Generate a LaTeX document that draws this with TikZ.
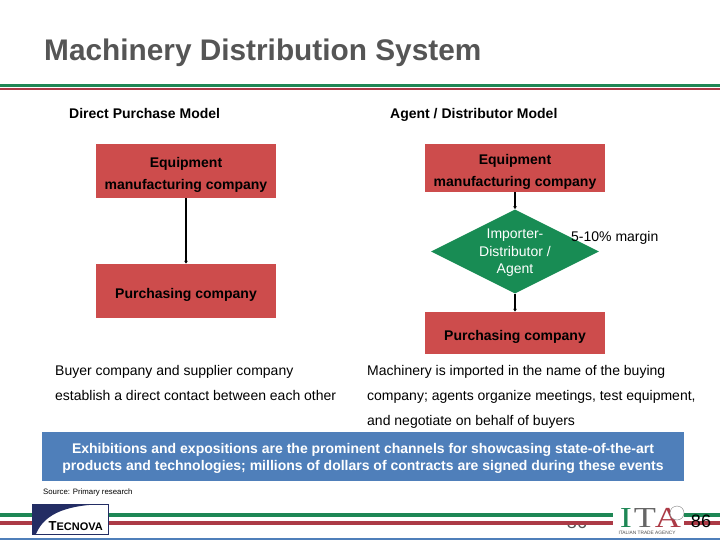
\documentclass[tikz,border=0pt]{standalone}
\usepackage{fontspec}
\setmainfont{Liberation Sans}
\newfontfamily\itaserif{Liberation Serif}
\usetikzlibrary{arrows.meta}
\usetikzlibrary{shapes.geometric}
\definecolor{boxred}{RGB}{205,76,76}
\definecolor{lineRed}{RGB}{172,58,70}
\definecolor{lineGreen}{RGB}{30,135,85}
\definecolor{diagGreen}{RGB}{24,140,84}
\definecolor{bandBlue}{RGB}{79,127,186}
\definecolor{titleGray}{RGB}{85,85,85}
\definecolor{logoNavy}{RGB}{35,45,100}
\newcommand{\boxdrop}{\rule{0pt}{18pt}}
\tikzset{
    redbox/.style={rectangle,fill=boxred,minimum width=180pt,inner sep=0pt,align=center,font=\bfseries\fontsize{14}{22}\selectfont},
    bodytext/.style={anchor=base west,inner sep=0pt,font=\fontsize{14}{15}\selectfont},
    headtext/.style={anchor=base west,inner sep=0pt,font=\bfseries\fontsize{14}{15}\selectfont},
    flowarrow/.style={-{Latex[length=3pt,width=4pt]},line width=1.3pt},
    italetter/.style={anchor=base,inner sep=0pt,xscale=1.25,transform shape,font=\itaserif\fontsize{29}{30}\selectfont},
}
\begin{document}
\begin{tikzpicture}[x=1pt,y=-1pt]
    \useasboundingbox (0,0) rectangle (720,540);
    % title
    \node (title) at (44,61) [anchor=base west,inner sep=0pt,text=titleGray,font=\bfseries\fontsize{29.8}{30}\selectfont] {Machinery Distribution System};
    \fill[lineGreen] (0,84) rectangle (720,87);
    \fill[lineRed] (0,88) rectangle (720,90.5);

    % nodes
    \node (directhead) at (69,119) [headtext] {Direct Purchase Model};
    \node (agenthead) at (390,119) [headtext] {Agent / Distributor Model};
    \node (maker1) at (186,171) [redbox,minimum height=54pt] {\boxdrop Equipment\\manufacturing company};
    \node (buyer1) at (186,291) [redbox,minimum height=54pt] {\boxdrop Purchasing company};
    \node (maker2) at (515,168) [redbox,minimum height=48pt] {\boxdrop Equipment\\manufacturing company};
    \node (agent) at (515,251.5) [diamond,fill=diagGreen,aspect=2,minimum width=168pt,minimum height=84pt,inner sep=0pt,text=white,align=center,text depth=-4pt,font=\fontsize{14}{17.5}\selectfont] {Importer-\\Distributor /\\Agent};
    \node (margin) at (571,241) [bodytext] {5-10\% margin};
    \node (buyer2) at (515,333) [redbox,minimum height=42pt] {\boxdrop Purchasing company};

    % paths
    \draw[flowarrow] (maker1) to (buyer1);
    \draw[flowarrow] (maker2) to (agent);
    \draw[flowarrow] (agent) to (buyer2);

    % notes
    \node (left1) at (55,375) [bodytext] {Buyer company and supplier company};
    \node (left2) at (55,400) [bodytext] {establish a direct contact between each other};
    \node (right1) at (367,375) [bodytext] {Machinery is imported in the name of the buying};
    \node (right2) at (367,400) [bodytext] {company; agents organize meetings, test equipment,};
    \node (right3) at (367,425) [bodytext] {and negotiate on behalf of buyers};
    \node (band) at (363,456.5) [rectangle,fill=bandBlue,minimum width=642pt,minimum height=49pt,inner sep=0pt,text=white,align=center,text depth=-5pt,font=\bfseries\fontsize{14}{17}\selectfont] {Exhibitions and expositions are the prominent channels for showcasing state-of-the-art\\products and technologies; millions of dollars of contracts are signed during these events};
    \node (source) at (43,494) [anchor=base west,inner sep=0pt,font=\fontsize{7.8}{9}\selectfont] {Source: Primary research};

    % footer
    \node (pagehidden) at (577,528) [anchor=base,inner sep=0pt,text=titleGray,font=\fontsize{18}{20}\selectfont] {86};
    \fill[white] (0,512) rectangle (720,525);
    \fill[lineGreen] (0,513) rectangle (720,516.5);
    \fill[lineRed] (0,521) rectangle (720,525);
    \fill[bandBlue] (0,538) rectangle (720,540);

    % tecnova logo
    \draw[logoNavy,fill=white,line width=.6pt] (32,504) rectangle (108,534);
    \fill[logoNavy] (32,504) -- (108,504) .. controls (70,504.5) and (45,512) .. (36,534) -- (32,534) -- cycle;
    \node (tecnova) at (103,530) [anchor=base east,inner sep=0pt,font=\bfseries\fontsize{13}{14}\selectfont] {T\fontsize{11}{14}\selectfont ECNOVA};

    % ita logo
    \fill[white] (613,505) rectangle (684,535);
    \node (itaI) at (626,527) [italetter,text=lineGreen] {I};
    \node (itaT) at (645,527) [italetter,text=black!60] {T};
    \node (itaA) at (668,527) [italetter,text=lineRed] {A};
    \node (itaseal) at (677,513) [circle,draw=black!50,fill=white,line width=.4pt,minimum size=14pt,inner sep=0pt] {};
    \node (itaname) at (647,534.5) [anchor=base,inner sep=0pt,text=black!70,font=\fontsize{4.8}{5}\selectfont] {ITALIAN TRADE AGENCY};
    \node (pagenum) at (701,527.5) [anchor=base,inner sep=0pt,font=\fontsize{18}{20}\selectfont] {86};
\end{tikzpicture}
\end{document}
